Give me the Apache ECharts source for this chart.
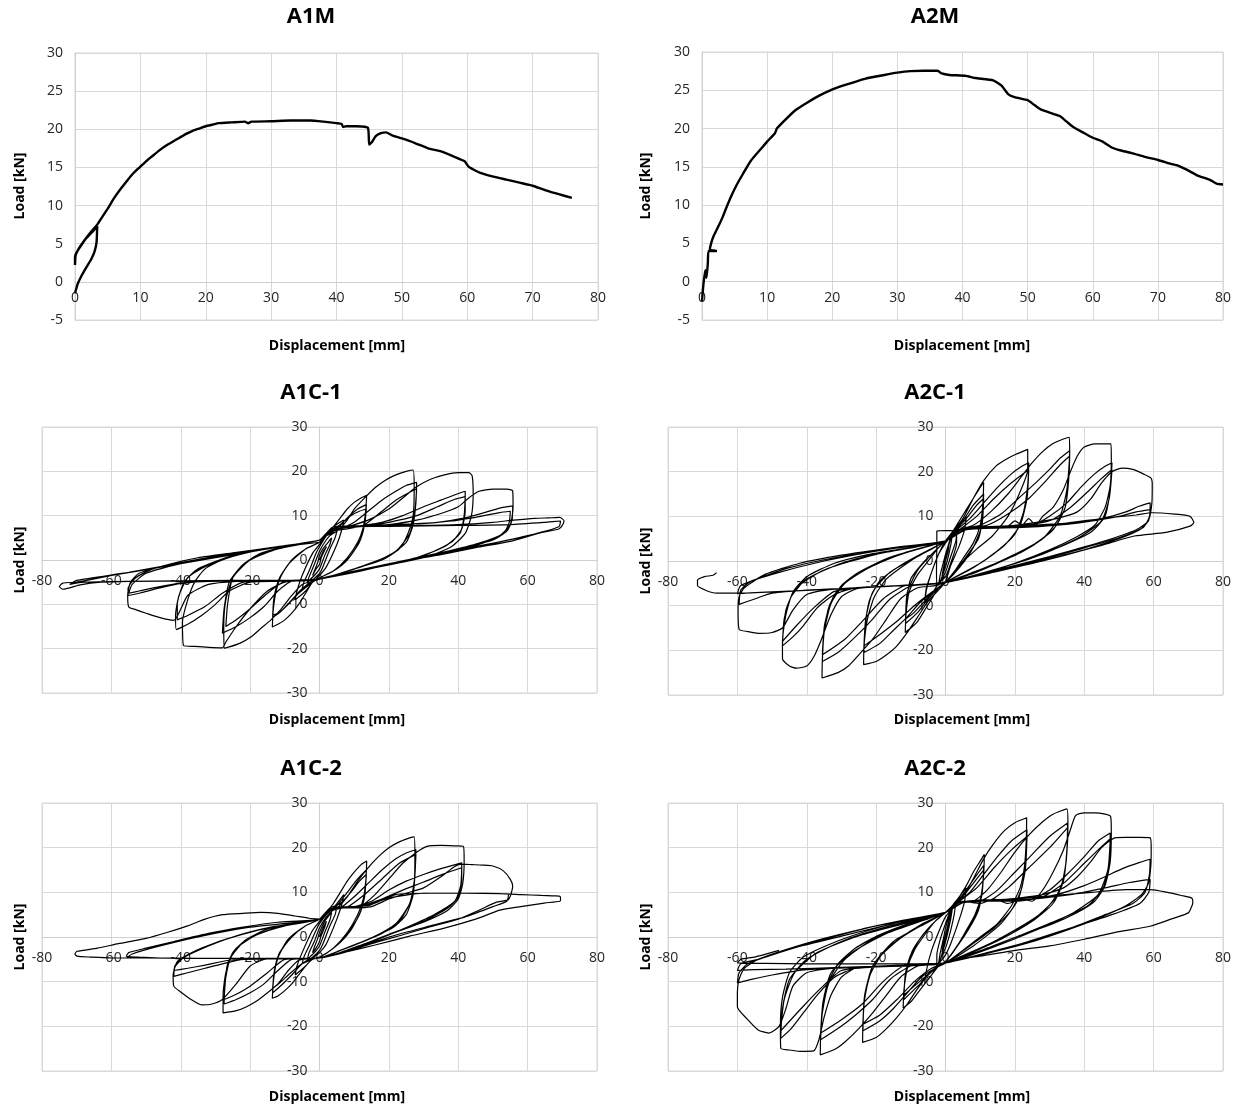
<!DOCTYPE html>
<html><head><meta charset="utf-8">
<script src="https://cdn.jsdelivr.net/npm/echarts@6/dist/echarts.min.js"></script>
<style>html,body{margin:0;padding:0;background:#fff}#c{width:1242px;height:1111px}</style>
</head><body><div id="c"></div>
<script>
// ---------- texts ----------
const titles = ['A1M', 'A2M', 'A1C-1', 'A2C-1', 'A1C-2', 'A2C-2'];
const xName = 'Displacement [mm]';
const yName = 'Load [kN]';
// ---------- axis scales [xmin, xmax, xstep, ymin, ymax, ystep] ----------
const monoScale = [0, 80, 10, -5, 30, 5];
const cycScale = [-80, 80, 20, -30, 30, 10];

// ---------- data [displacement mm, load kN] ----------
const A1M = [[0,-1.5],[0.4,-0.3],[1,0.8],[1.8,2],[2.5,3],[3,4],[3.3,5.2],[3.4,7.3],[2.6,6.5],[1.6,5.6],[0.8,4.6],[0.2,3.8],[0,3.2],[0,2.2],[0.1,3.5],[0.6,4.4],[1.4,5.4],[2.4,6.5],[3.4,7.5],[4,8.3],[5,9.6],[6,11],[7,12.2],[8,13.3],[9,14.3],[10,15.1],[11,15.9],[12,16.6],[13,17.3],[14,17.9],[15,18.4],[16,18.9],[17,19.4],[18,19.8],[19,20.1],[20,20.4],[21,20.6],[22,20.8],[24,20.9],[26,21],[26.5,20.8],[27,21],[30,21.05],[33,21.15],[36,21.15],[38,21],[40,20.8],[40.8,20.7],[41,20.3],[41.5,20.4],[43,20.4],[44.8,20.2],[45,18],[45.4,18.3],[46,19.1],[46.8,19.5],[47.6,19.6],[48.5,19.2],[50,18.8],[52,18.2],[54,17.5],[56,17.1],[58,16.4],[59.6,15.8],[60.2,15.1],[61,14.7],[62,14.3],[64,13.8],[66,13.4],[68,13],[70,12.6],[72,12],[74,11.5],[76,11]];

const A2M = [[0,-2.5],[0.2,-0.5],[0.5,1.5],[0.7,0.5],[0.9,2.5],[1,4],[2.3,4],[1.2,4.2],[1.4,5],[1.8,6],[2.5,7.2],[3.2,8.5],[3.8,9.8],[4.5,11.2],[5.3,12.6],[6.3,14.1],[7.5,15.8],[9,17.3],[10,18.3],[11.2,19.4],[11.5,20],[12.5,20.9],[14.2,22.3],[16,23.3],[18,24.3],[19.7,25],[22,25.7],[25,26.5],[28,27],[30,27.3],[32,27.5],[34,27.55],[36.2,27.55],[36.8,27.2],[38,27],[40.4,26.9],[42,26.6],[44.7,26.3],[46,25.6],[47,24.5],[48,24.1],[50,23.7],[51,23.1],[52,22.5],[54,21.9],[55,21.6],[56,20.9],[57,20.2],[58.5,19.5],[60,18.8],[61.5,18.3],[63,17.5],[64.5,17.1],[66,16.8],[68,16.3],[70,15.9],[72,15.4],[73,15.2],[74.5,14.6],[76,13.9],[78,13.3],[79,12.8],[80,12.7]];

const A1C1 = [[0,0],[1,1.8],[2,3],[1.5,2.2],[0.5,0.5],[0,-1],[-1,-2],[-2,-3.5],[-1.5,-2.5],[-0.5,-0.5],[0,1],
[1,2.5],[2.5,4],[3.5,5],[3,3.5],[1.5,1],[0,-2],[-1.5,-3.5],[-3.5,-5],[-3,-3.8],[-1.5,-1],[0,2],
[1.5,4],[3,5.5],[5,6.5],[4.5,5],[3,2.5],[1,-1.5],[0,-3],[-2,-4.5],[-5,-6.5],[-4.5,-5],[-3,-2.5],[-1,1.5],[0,3],
[2,5.5],[4,7.5],[7,9],[6.5,7],[5,3.5],[2,-1.5],[0,-3.5],[-2,-5],[-4,-7],[-7,-9],[-6.5,-7],[-5,-3.5],[-2,1.5],[0,3.5],
[2,5.5],[4,7.5],[6,9.5],[8,11.5],[10,13],[12,14],[13.6,14.6],[13.3,11],[12.5,7],[11,4],[8,0.5],[4,-2.5],[0,-4],
[-2,-5],[-4,-7.5],[-6,-10],[-8,-12],[-10,-13.5],[-12,-14.5],[-13.6,-15.1],[-13.3,-11],[-12.5,-7],[-11,-3.5],[-8,0],[-4,2.5],[0,4],
[2,5.5],[5,7],[8,9.5],[11,11.5],[13.5,12.5],[13.2,9],[12,5],[9,1],[4,-2.5],[0,-4],
[-2,-5],[-5,-6.5],[-8,-9],[-11,-11.5],[-13.5,-13],[-13.2,-9],[-12,-5],[-9,-1],[-4,2.5],[0,4],
[2,5.5],[6,8],[9,10],[11.5,11],[13.5,11.5],[13,8],[11.5,4],[8,0],[4,-2.5],[0,-4],
[-2,-5],[-6,-7.5],[-9,-10],[-11.5,-11.8],[-13.5,-12.5],[-13,-8],[-11.5,-4],[-8,0],[-4,2.5],[0,4],
[2,5.5],[5,6.5],[8,9],[10,11.5],[13,14],[16,16.3],[19,18],[22,19.2],[25,20],[27,20.3],[27.3,16],[27,10],[25.5,6],[23,2.5],[18,0],[12,-1.5],[6,-3],[0,-4.3],
[-2,-4.8],[-5,-5.5],[-8,-8],[-11,-11],[-14,-13.5],[-17,-15.5],[-20,-17.5],[-23,-18.8],[-26,-19.6],[-27.5,-19.9],[-27.6,-15],[-27,-9],[-25,-4],[-22,-1],[-17,1.5],[-10,3],[-5,3.8],[0,4.5],
[2,6],[6,7],[10,8.5],[14,11],[18,13.5],[22,15.5],[25,16.8],[28,17.5],[27.8,13],[27,8],[25,4],[20,1],[12,-1.5],[5,-3.3],[0,-4.3],
[-3,-4.6],[-8,-4.8],[-12,-7],[-16,-10.5],[-20,-13],[-24,-15],[-28,-16.5],[-27.5,-11],[-26,-5],[-22,-1],[-15,2],[-7,3.5],[0,4.5],
[3,6.5],[8,7],[13,8],[18,11],[22,13.5],[26,15.3],[28,16],[27.5,11],[26,6],[22,2],[14,-1],[6,-3],[0,-4.3],
[-4,-4.6],[-10,-4.8],[-15,-7.5],[-20,-11],[-24,-13.5],[-27,-15],[-26.5,-10],[-25,-4],[-20,0],[-12,2.5],[0,4.5],
[3,6.5],[8,7.5],[14,9],[20,11.5],[24,14],[28,16.5],[32,18.2],[36,19.2],[40,19.7],[43,19.7],[44,19],[44.3,15],[43.8,10],[42,6],[38,3],[32,1],[24,-0.5],[14,-2],[6,-3.3],[0,-4.3],
[-4,-4.6],[-10,-5],[-15,-7],[-20,-11],[-24,-15],[-27,-18.5],[-28,-19.8],[-32,-19.7],[-36,-19.5],[-39.2,-19.3],[-39.5,-14],[-38,-9],[-36,-5],[-33,-2],[-28,0],[-20,1.8],[-10,3.2],[0,4.5],
[3,6.5],[10,7.5],[18,8.5],[24,10],[30,12],[35,13.5],[40,15],[42,15.5],[42,11],[41,7],[38,4],[30,1],[20,-1],[10,-2.8],[0,-4.3],
[-5,-4.6],[-12,-4.8],[-20,-5],[-26,-7],[-30,-10],[-34,-12.5],[-38,-14.5],[-41.3,-15.7],[-41.5,-12.5],[-40.5,-8],[-38,-4],[-33,-1.5],[-25,0.8],[-15,2.6],[0,4.5],
[4,7],[12,7.5],[20,8.5],[28,10],[34,12],[39,13.7],[42,14.3],[41.7,10],[40.5,6],[36,3],[26,0],[14,-2],[0,-4.3],
[-6,-4.6],[-14,-4.7],[-22,-5],[-28,-7.5],[-33,-10.5],[-38,-12.5],[-41,-13.5],[-41,-10],[-39,-5],[-35,-2],[-25,1],[-12,3],[0,4.5],
[4,7],[12,7.5],[20,8],[28,9],[35,10.5],[40,12],[43,14],[46,15.5],[50,16],[54,16],[55.7,15.6],[55.8,12],[55,8],[52,5.5],[46,3.5],[38,2],[28,0.3],[18,-1.3],[8,-3],[0,-4.3],
[-6,-4.6],[-14,-4.7],[-24,-4.8],[-32,-5.5],[-38,-8],[-42,-13.6],[-46,-13],[-50,-12],[-53,-11.2],[-55,-10.6],[-55.3,-8],[-54.5,-5],[-52,-3],[-45,-1.3],[-35,0.5],[-25,1.6],[-12,3],[0,4.5],
[4,7.5],[14,7.7],[24,8],[34,8.5],[42,9.5],[48,10.8],[52,11.7],[55.7,12.2],[55.5,9],[54,6.5],[50,4.5],[40,2.5],[28,0.5],[15,-1.8],[0,-4.3],
[-8,-4.6],[-20,-4.7],[-32,-4.8],[-40,-5.3],[-46,-6.3],[-51,-7.3],[-55,-8],[-55.2,-6.5],[-53,-4],[-48,-2],[-38,-0.3],[-25,1.5],[-12,3],[0,4.5],
[4,7.5],[15,7.8],[28,8.2],[38,8.8],[46,9.8],[52,10.7],[55,11],[54.7,8.5],[53,6],[46,3.8],[36,1.8],[22,-0.6],[8,-3],[0,-4.3],
[-10,-4.6],[-25,-4.7],[-38,-5],[-46,-6],[-52,-7],[-55,-7.5],[-54,-5.5],[-50,-3],[-40,-0.8],[-25,1.5],[0,4.5],
[4,7.5],[15,7.7],[28,7.8],[40,8],[50,8.5],[56,9],[62,9.4],[66,9.5],[69.3,9.6],[70.5,8.8],[70,7.8],[69,7],[63,6],[55,4.2],[45,2.8],[35,1.2],[24,-0.3],[12,-2.3],[0,-4.3],
[-10,-4.6],[-25,-4.6],[-40,-4.7],[-55,-4.8],[-63,-5],[-69,-5.6],[-72,-6.3],[-74,-6.6],[-75,-6],[-74,-5.2],[-70,-5],[-60,-3.5],[-45,-1.5],[-30,0.5],[-15,2.5],[0,4.5],
[5,7.5],[20,7.6],[40,7.8],[55,8],[65,8.5],[69.5,8.8],[69,7.5],[60,5.5],[45,3],[25,0],[10,-2.5],[0,-4.3],
[-15,-4.6],[-35,-4.7],[-55,-4.8],[-68,-5],[-72,-5.5],[-70,-4.6],[-55,-2.8],[-35,0],[-15,2.5],[0,4]];

const A2C1 = [[0,0],[0.5,2],[1,3.5],[0.7,2],[0,0],[-0.5,-2],[-1,-3.5],[-0.7,-2],[0,0.5],
[0.8,3],[1.5,5],[2,6],[1.5,3.5],[0.5,0],[-0.5,-2.5],[-1.5,-4.5],[-2,-5.5],[-1.5,-3],[-0.5,0],[0,1.5],
[1,4],[2,6.3],[3.2,6.8],[3,4.5],[1.5,1],[0,-2.5],[-1.5,-4.5],[-2.5,-5.2],[-2.6,-2],[-2.5,3],[-2.5,6.7],[0,6.8],[3.2,6.8],[3.2,4],[1.5,-0.5],[0,-3.5],[-2,-5],[-4,-7.5],[-6,-9],[-5.5,-6],[-4,-2.5],[-2,1.5],[0,4],
[1.5,5.5],[3,7],[6,10],[5.5,7],[4,3.5],[1.5,-1],[0,-4.5],[-2,-6],[-4,-7.5],[-6,-9.5],[-5.5,-6.5],[-4,-2.5],[-2,1.5],[0,4.5],
[2,6.5],[4,9],[6,11.5],[8,14],[10,16.5],[11,17.6],[10.8,13],[10,8],[8,4],[5,0.5],[2,-3],[0,-4.8],
[-2,-6],[-4,-8.5],[-6,-11],[-8,-13.5],[-10,-15],[-11.6,-16],[-11.4,-12],[-10.5,-7],[-8,-3],[-5,0],[-2,3],[0,4.5],
[2,6.5],[5,9],[8,12.5],[11,15],[10.7,10],[9.5,5],[6,1],[2,-3],[0,-4.8],
[-2,-6],[-5,-8.5],[-8,-11.5],[-11.5,-14],[-11.2,-9],[-10,-4],[-6,0],[-2,3],[0,4.5],
[3,7],[6,9.5],[9,12.5],[11,14],[10.5,8],[8,3],[4,-1.5],[0,-4.8],
[-3,-6.5],[-6,-9],[-9,-11.5],[-11.5,-13],[-11,-7],[-8,-2],[-4,1.5],[0,4.5],
[2,6.5],[5,9.5],[8,14],[11,18],[14.6,21.3],[17.5,22.8],[20.3,23.9],[23.7,25],[23.7,20.5],[21.4,15.3],[18,10],[13.5,5.6],[8.9,2.6],[4,-1],[0,-4.8],
[-2,-6.5],[-5,-9],[-8,-12.5],[-11,-16],[-14,-19],[-17,-21],[-20,-22.5],[-23.6,-23.2],[-23.5,-19],[-22.5,-13],[-20.5,-8],[-17,-4],[-12,-1],[-7,1.5],[0,4.5],
[3,6.8],[7,9.5],[11,13],[15,16.5],[19,19.5],[22,21.2],[24,22],[23.7,17],[22.5,11],[20,6],[15,2.3],[8,-1.5],[0,-4.8],
[-3,-6.7],[-7,-9],[-11,-12.5],[-15,-15.5],[-19,-18.5],[-23.5,-20.5],[-23.2,-15],[-22,-9],[-19,-4.5],[-13,-1],[-6,2],[0,4.5],
[4,7],[9,10],[14,14],[19,17.5],[24,20.5],[23.5,14],[21.5,8],[17,3.5],[10,-0.5],[0,-4.8],
[-4,-7],[-9,-10],[-14,-13.5],[-19,-16.5],[-23.5,-19],[-23,-13],[-21,-7],[-16,-2.5],[-8,1],[0,4.5],
[3,6.8],[8,8],[13,11],[18,15],[22,19],[25,22],[28,24.5],[31,26.3],[34,27.3],[35.7,27.7],[35.8,24],[35.5,18],[34.5,12],[32,8],[28,5],[22,2],[15,-0.5],[8,-2.8],[0,-4.8],
[-3,-5.5],[-8,-6],[-13,-8.5],[-17,-13],[-21,-17.5],[-25,-21],[-28,-23.5],[-31,-25],[-35.6,-26.2],[-35.5,-22],[-35,-16],[-33.5,-10],[-30,-5.5],[-25,-2.5],[-18,0],[-10,2.2],[0,4.5],
[4,7],[10,8],[16,10.5],[21,14],[26,17.5],[30,20.5],[33,23],[35.8,24.7],[35.5,19],[34.5,12],[31,7],[25,3.5],[16,0],[8,-2.5],[0,-4.8],
[-4,-5.2],[-10,-5.6],[-16,-8.5],[-21,-13],[-26,-17],[-31,-20.5],[-35.5,-22.5],[-35,-16],[-33,-9.5],[-29,-5],[-22,-1.5],[-12,1.8],[0,4.5],
[5,7.2],[12,8],[18,10.5],[24,14],[29,18],[33,21.5],[35.8,23.5],[35,16],[33,10],[28,5],[20,1.5],[10,-2],[0,-4.8],
[-5,-5.2],[-12,-5.6],[-18,-8.5],[-24,-13.5],[-29,-17.5],[-35.5,-21],[-34.8,-14],[-32,-7.5],[-26,-3],[-16,0.8],[0,4.5],
[5,7.2],[12,7.5],[18,7.8],[20,9],[22,8],[24,9.5],[26,8],[28,10],[31,12],[34,16],[36,20],[38,23.5],[40,25.5],[43,26.2],[47.7,26.2],[47.8,23],[47.5,17],[46,12],[43,8],[38,5.5],[30,2.5],[20,-0.5],[10,-2.8],[0,-4.8],
[-5,-5.2],[-12,-5.5],[-20,-5.8],[-26,-6.3],[-30,-8],[-33,-12],[-36,-18],[-38,-21.5],[-40,-23.5],[-43,-24],[-45,-23.5],[-47,-21.9],[-47,-18],[-46,-12],[-44,-7],[-40,-3.5],[-32,-0.5],[-22,1.5],[-10,3],[0,4.5],
[5,7.2],[15,7.5],[25,8],[30,10],[35,13],[39,16.5],[43,19.5],[46,21.2],[48,22],[47.5,16],[46,10],[42,6.5],[34,3.5],[24,0.5],[12,-2.5],[0,-4.8],
[-6,-5.2],[-16,-5.6],[-26,-6],[-32,-7.5],[-37,-10.5],[-41,-14.5],[-44,-17],[-47,-19],[-46.5,-13],[-44.5,-8],[-40,-4],[-30,-0.5],[-18,2],[0,4.5],
[5,7.2],[20,7.8],[30,9],[36,12],[41,15.5],[45,18.5],[48,20.5],[47.2,14],[45,9],[39,5.5],[28,1.5],[14,-2],[0,-4.8],
[-8,-5.3],[-22,-5.8],[-32,-6.8],[-38,-10.5],[-43,-14.5],[-47,-18],[-46,-11],[-43,-6],[-35,-2],[-20,1.5],[0,4.5],
[5,7.2],[20,8],[32,9.5],[38,11],[42,14],[45,17.5],[48,20],[51,20.8],[54,20.5],[57,19.5],[59.3,18.5],[59.6,17],[59.5,13],[58.5,9],[56,7],[50,5],[40,2.5],[28,0],[14,-2.5],[0,-4.8],
[-8,-5.3],[-20,-5.8],[-32,-6.3],[-40,-7.5],[-44,-11],[-47,-15],[-50,-16],[-54,-16.2],[-57,-15.8],[-59.5,-15.3],[-59.8,-11],[-59.5,-8],[-58,-6],[-52,-3],[-42,-0.5],[-30,1.3],[-15,3],[0,4.5],
[6,7.2],[20,7.8],[35,8.5],[45,9.5],[52,11],[56,12.3],[59,13],[58.8,10],[57,7.5],[50,5.2],[38,2.5],[24,-0.5],[10,-3],[0,-4.8],
[-8,-5.3],[-25,-6],[-40,-6.5],[-50,-7.2],[-55,-8.5],[-59.5,-9.7],[-59,-6.5],[-56,-4.5],[-45,-1.5],[-30,1],[-15,2.8],[0,4.5],
[6,7],[22,7.5],[38,8.5],[50,10],[55,11],[59,11.5],[58.5,9],[55,7],[45,4.3],[30,1],[15,-2],[0,-4.8],
[-10,-5.4],[-30,-6.2],[-50,-6.9],[-60,-7.3],[-59,-5.5],[-50,-3],[-35,0],[-18,2.5],[0,4.5],
[6,7],[20,7.5],[35,8.5],[45,9.5],[55,10.3],[59.6,10.8],[66,10.5],[70.5,10],[71.6,8.6],[70.5,7.8],[63.6,6.4],[54.5,5.6],[45,3.5],[35,1.5],[25,-0.5],[12,-2.8],[0,-4.8],
[-10,-5.4],[-30,-6.2],[-50,-6.9],[-60,-7.2],[-66,-7.2],[-69,-6.6],[-71.5,-5.5],[-71.5,-4.3],[-69.5,-3.5],[-67,-3.2],[-66,-2.6]];

const A1C2 = [[0,0],[1,2],[2,3.5],[1.5,2.2],[0.5,0.3],[0,-1],[-1,-2.5],[-2,-3.5],[-1.5,-2.3],[-0.5,-0.3],[0,1],
[1.5,3.5],[3.5,5.5],[3,3.8],[1.5,1],[0,-2],[-1.5,-3.5],[-3.5,-5],[-3,-3.5],[-1.5,-1],[0,2],
[2,4.5],[5,6.8],[4.5,5],[3,2.5],[1,-1.5],[0,-3],[-2,-4.5],[-5,-6],[-4.5,-4.5],[-3,-2],[-1,1.5],[0,3],
[2,5],[4,6.5],[7,9.5],[6.5,7.5],[5,4],[2,-1.5],[0,-3.5],[-2,-4.8],[-4,-6.5],[-7,-8.5],[-6.5,-6.5],[-5,-3.5],[-2,1.5],[0,3.5],
[2,5.5],[4,7.5],[6,10],[8,12.5],[10,14.5],[12,16.2],[13.6,17],[13.4,13],[12.6,8.5],[11,5],[8,1],[4,-2.5],[0,-4.5],
[-2,-5],[-4,-6.5],[-6,-8.5],[-8,-10.5],[-10,-12],[-12,-13.2],[-13.6,-13.7],[-13.3,-10],[-12.5,-6],[-11,-3],[-8,0],[-4,2.5],[0,4],
[2,5.5],[5,7],[8,10],[11,13],[13.5,15],[13.2,10.5],[12,6],[9,1.5],[4,-2.5],[0,-4.5],
[-2,-5],[-5,-6],[-8,-8.5],[-11,-10.8],[-13.5,-12.5],[-13.2,-8.5],[-12,-4.5],[-9,-0.5],[-4,2.5],[0,4],
[3,6.5],[6,7.5],[9,10],[11.5,12.5],[13.5,14],[13,9],[11.5,5],[8,0.5],[4,-2.5],[0,-4.5],
[-3,-5],[-6,-6.5],[-9,-8.5],[-11.5,-10.3],[-13.5,-11.5],[-13,-7.5],[-11.5,-3.5],[-8,0],[-4,2.5],[0,4],
[2,5.5],[5,6.5],[8,9],[11,12.5],[14,15.5],[17,18],[20,20],[23,21.3],[26,22.2],[27.3,22.4],[27.5,18],[27.3,12],[26,7.5],[23,3.5],[18,0.8],[12,-1.2],[6,-3],[0,-4.7],
[-3,-4.8],[-6,-5.2],[-9,-7.5],[-12,-10.5],[-15,-12.5],[-18,-14.3],[-21,-15.6],[-24,-16.5],[-27.8,-17],[-27.8,-13],[-27,-8],[-25,-3.5],[-21,-0.5],[-15,1.8],[-8,3],[0,4],
[2,5.5],[6,6.5],[10,9],[14,12],[18,15],[22,17.5],[25,18.8],[27.8,19.6],[27.6,15],[27,9.5],[25,5],[21,2],[14,-0.5],[7,-2.7],[0,-4.7],
[-3,-4.8],[-8,-5],[-12,-7.5],[-16,-10.5],[-20,-12.5],[-24,-14],[-27.5,-15],[-27.3,-11],[-26.5,-6],[-24,-2.5],[-18,0.5],[-10,2.5],[0,4],
[3,6],[8,6.7],[13,9.5],[18,13],[23,16.5],[27.8,18.5],[27.4,13],[26,7.5],[22,3],[15,-0.2],[7,-2.7],[0,-4.7],
[-4,-4.8],[-10,-5],[-15,-8],[-20,-11],[-24,-12.8],[-27.5,-14],[-27,-9],[-25.5,-4.5],[-21,-0.5],[-12,2.2],[0,4],
[3,6.3],[8,6.7],[12,7],[16,9.5],[20,13],[24,16.5],[28,19],[31,20.3],[35,20.5],[39,20.4],[41.5,20.3],[41.7,17],[41.3,12],[40,8.5],[37,6],[32,4],[26,2.2],[20,0.5],[13,-1.5],[6,-3.5],[0,-4.7],
[-4,-4.8],[-10,-4.8],[-16,-5],[-20,-6.5],[-24,-10.5],[-28,-14],[-31,-15],[-34,-15.2],[-37,-14],[-40,-12.3],[-42,-11],[-42.2,-8.5],[-41.5,-6.5],[-39,-4.5],[-34,-2.5],[-27,-0.5],[-18,1.5],[-10,2.7],[0,4],
[3,6.3],[10,6.8],[15,8],[20,10.5],[25,12.5],[30,14],[35,15.3],[41,16.6],[41,13],[40,9],[37,6.5],[30,3.5],[20,0.6],[10,-2.5],[0,-4.7],
[-5,-4.8],[-14,-4.9],[-22,-5],[-28,-6],[-33,-7],[-38,-8],[-42,-8.8],[-41.7,-6.5],[-40,-5],[-35,-3],[-25,0],[-14,2.2],[0,4],
[4,6.5],[12,7],[18,8.5],[24,10.5],[30,12.3],[36,14.2],[41,15.5],[40.7,11.5],[39,8],[33,5],[24,1.8],[12,-2],[0,-4.7],
[-6,-4.8],[-16,-4.9],[-26,-5.2],[-33,-6.3],[-38,-7],[-42,-7.5],[-41,-5.5],[-38,-4],[-30,-1.3],[-18,1.5],[0,4],
[4,6.5],[10,6.5],[15,6.8],[20,8.5],[25,9.8],[30,11],[35,13.5],[39,15.8],[41,16.3],[44,16.2],[47,16.1],[50,15.9],[53,14.8],[55,12.9],[55.7,11.4],[54.5,8.4],[51,7.8],[46,6],[40,4],[32,2.3],[24,0.5],[15,-1.5],[7,-3.5],[0,-4.7],
[-6,-4.8],[-16,-4.8],[-28,-4.8],[-38,-4.8],[-46,-4.7],[-52,-4.5],[-55.7,-4.3],[-55,-3.5],[-50,-2.5],[-42,-1],[-32,0.8],[-22,2.2],[-12,3.3],[0,4],
[4,6.5],[12,6.8],[20,8.7],[30,9.8],[40,9.8],[48,9.8],[52,9.7],[54.5,9.5],[54,8],[50,6.8],[42,4.5],[32,2.5],[20,0],[8,-3.2],[0,-4.7],
[-8,-4.8],[-20,-4.8],[-34,-4.8],[-46,-4.7],[-55.5,-4.6],[-54,-3.8],[-46,-2],[-34,0.2],[-20,2.2],[0,4],
[4,6.5],[14,7],[22,9.5],[32,9.8],[42,9.8],[52,9.7],[58,9.5],[64,9.3],[68,9.2],[69.3,9.1],[69.5,8.5],[69.3,8],[64.8,7.6],[58,6.8],[52,6],[45,4],[36,2],[26,0.2],[16,-1.8],[8,-3.3],[0,-4.7],
[-8,-4.8],[-20,-4.8],[-35,-4.8],[-50,-4.7],[-60,-4.7],[-66,-4.5],[-69.9,-4.3],[-70.5,-3.8],[-69.9,-3.2],[-64,-2.5],[-58,-1.5],[-50,-0.3],[-44,1],[-38,2.5],[-33,4],[-28,5],[-22,5.3],[-17,5.5],[-12,5.3],[-7,4.7],[-3,4.2],[0,4]];

const A2C2 = [[0,0],[0.5,2],[1,3.5],[0.7,2],[0,0],[-0.5,-2],[-1,-3.5],[-0.7,-2],[0,0.5],
[0.8,3],[1.5,5],[2,6.5],[1.5,4],[0.5,0.5],[-0.5,-2.5],[-1.5,-5],[-2,-6],[-1.5,-3.5],[-0.5,0],[0,2],
[1,4.5],[2,7],[3,8],[2.5,5],[1.5,1.5],[0,-2.5],[-1.5,-5],[-2.5,-6.5],[-2.5,-4],[-1.5,-0.5],[0,3],
[1.5,6],[3,8],[6,11],[5.5,8],[4,4],[1.5,-1.5],[0,-4],[-2,-6],[-4,-8.5],[-6,-10.5],[-5.5,-7.5],[-4,-3],[-1.5,2],[0,4.5],
[2,6.5],[4,9],[6,11.5],[8,14.5],[10,17],[11.2,18.5],[11,14],[10.2,9],[8.5,5],[6,1.5],[3,-2.5],[0,-5.5],
[-2,-6.5],[-4,-8.5],[-6,-10.5],[-8,-12.5],[-10,-14.5],[-12.2,-15.9],[-12,-12],[-11,-7],[-9,-3],[-6,0.5],[-3,3.5],[0,5.5],
[2,7],[5,9.5],[8,12.8],[11,16],[10.7,11],[9.5,6],[6.5,1.5],[3,-2.5],[0,-5.5],
[-2,-6.5],[-5,-8.5],[-8,-11],[-12,-14],[-11.7,-9.5],[-10.3,-4.5],[-7,0],[-3,3.5],[0,5.5],
[3,7.5],[6,10],[9,13],[11,15],[10.5,9.5],[8.5,4.5],[5,0],[2,-3.5],[0,-5.5],
[-3,-7],[-6,-9],[-9,-11],[-12,-13],[-11.5,-8],[-9.5,-3],[-6,1],[-3,3.5],[0,5.5],
[2,7],[5,9],[8,13],[11,17.5],[14,21],[17,23.8],[20,25.6],[23.4,26.7],[23.3,22],[22.8,16],[21.5,11],[19,7],[15,3],[10,0],[5,-3],[0,-5.8],
[-2,-6.5],[-5,-8.5],[-8,-11.5],[-11,-15],[-14,-18],[-17,-20.5],[-20,-22.5],[-23.9,-23.6],[-23.8,-19],[-23.2,-13],[-21.5,-8],[-18,-3.5],[-13,-0.2],[-7,2.8],[0,5.5],
[3,7.5],[7,10],[11,14],[15,18],[19,21.5],[23.5,24],[23.2,18],[22,11],[19,6],[14,2],[7,-2],[0,-5.8],
[-3,-7],[-7,-9],[-11,-12.5],[-15,-16],[-19,-18.8],[-23.8,-21],[-23.5,-15],[-22,-9],[-19,-4.5],[-13,-0.3],[-6,3],[0,5.5],
[4,8],[9,11],[14,15.5],[19,19.5],[23.5,22.5],[23,15],[21,8.5],[16,3],[8,-2],[0,-5.8],
[-4,-7],[-9,-10],[-14,-14],[-19,-17.5],[-23.8,-19.5],[-23.3,-13],[-21,-6.5],[-15,-1],[-7,2.5],[0,5.5],
[3,7.5],[8,8],[12,10.5],[16,14.5],[20,19],[24,22.8],[28,25.8],[31,27.5],[35,28.7],[35.3,25],[35,19],[34,13],[31.5,8.5],[27,5],[21,2],[14,-1],[7,-3.5],[0,-5.8],
[-3,-6.2],[-8,-6.5],[-13,-9],[-17,-13],[-21,-17],[-25,-20.5],[-29,-23.5],[-32,-25.2],[-36.1,-26.4],[-36,-22],[-35.5,-16],[-34,-10.5],[-31,-6],[-26,-2.5],[-19,0.5],[-10,3.2],[0,5.5],
[4,7.8],[10,8],[15,10.5],[20,14.5],[25,18.5],[30,22.5],[35.2,25.5],[35,19.5],[34,12.5],[31,7.5],[25,3.5],[16,-0.5],[8,-3.3],[0,-5.8],
[-4,-6.2],[-10,-6.5],[-16,-9.5],[-21,-14],[-26,-17.5],[-31,-20.5],[-36,-23],[-35.5,-17],[-33.5,-10],[-29,-5],[-21,-0.5],[-11,2.8],[0,5.5],
[5,8],[12,8],[18,11],[24,15.5],[30,20],[35.2,24.5],[34.8,17],[33,10.5],[28,5.5],[19,0.8],[9,-3],[0,-5.8],
[-5,-6.2],[-12,-6.5],[-18,-10],[-24,-15],[-30,-18.5],[-36,-21.5],[-35.3,-14.5],[-33,-8],[-27,-3.5],[-17,0.8],[0,5.5],
[5,8],[10,7.5],[14,8.5],[18,7.5],[22,8.5],[25,8],[28,10.5],[31,14.5],[34,19.5],[36,24],[37.5,27.2],[40,27.8],[43,27.8],[46,27.5],[47.6,27],[47.8,23.5],[47.5,17],[46,11.5],[43,8],[38,5.5],[31,3],[22,0.5],[12,-2.5],[0,-5.8],
[-5,-6.2],[-12,-6.5],[-20,-6.7],[-26,-7],[-30,-9],[-33,-13],[-35,-18],[-36.5,-23],[-38,-25.5],[-42,-25.6],[-45,-25.3],[-47.5,-24.9],[-47.6,-20],[-47,-13.5],[-45,-8],[-41,-4.5],[-33,-1.5],[-22,1.5],[-11,3.8],[0,5.5],
[5,8],[15,8],[25,8.5],[30,10.5],[35,14],[40,18],[44,21.5],[47.5,23.3],[47.2,17],[45.5,11],[41,7],[33,4],[22,0.5],[11,-2.8],[0,-5.8],
[-6,-6.2],[-16,-6.6],[-26,-7],[-32,-9],[-37,-13],[-41,-17],[-44.5,-20.5],[-47.5,-22.7],[-47,-16],[-45,-9.5],[-40,-5],[-30,-1],[-16,2.5],[0,5.5],
[6,8],[18,8],[28,9],[34,12],[40,16.5],[44,19.5],[47.5,22],[46.8,15],[44,9.5],[37,5.5],[26,1.5],[13,-2.5],[0,-5.8],
[-8,-6.2],[-20,-6.7],[-30,-7.5],[-36,-11.5],[-41,-15.5],[-47.5,-21],[-46.5,-14],[-43.5,-8],[-37,-3.5],[-24,0.5],[0,5.5],
[6,8],[18,8.5],[28,9.5],[34,11],[38,13.5],[42,17],[45,20],[48.8,22.2],[52,22.3],[56,22.3],[59,22.2],[59.3,20],[59.2,16],[58.5,12],[56.5,9.5],[52,7],[45,4.5],[36,1.8],[26,-0.8],[14,-3.3],[0,-5.8],
[-8,-6.2],[-20,-6.6],[-32,-7],[-40,-8],[-44,-11],[-46,-16],[-48,-20],[-51,-21.5],[-54,-20.8],[-57,-18.5],[-60,-15.6],[-60,-12.5],[-59.5,-9.5],[-58,-7],[-54,-5],[-46,-2.8],[-36,-0.5],[-24,1.8],[-12,3.8],[0,5.5],
[6,8],[20,8],[32,9.5],[40,11.5],[46,13.5],[51,15.3],[56,16.7],[59,17.4],[58.8,14],[57.5,10],[54,7.5],[46,5],[36,2],[24,-1],[12,-3.5],[0,-5.8],
[-10,-6.3],[-25,-6.8],[-40,-7.3],[-50,-8.5],[-56,-9.5],[-60,-10.3],[-59.5,-8],[-57,-6],[-48,-3.5],[-35,-0.5],[-20,2.5],[0,5.5],
[6,8],[22,8.3],[36,9.5],[46,11],[53,12.2],[59,12.9],[58.6,10],[56,7.5],[48,5],[36,2],[22,-1.5],[10,-4],[0,-5.8],
[-12,-6.3],[-30,-6.8],[-46,-7.2],[-55,-7.3],[-60,-7.5],[-59,-6],[-54,-5],[-44,-2.5],[-30,0.2],[-15,3],[0,5.5],
[6,8],[20,8.5],[32,9.3],[42,10],[52,10.6],[59,10.6],[64,10],[68,9.3],[71,8.7],[71.3,7.8],[71,6.9],[70,5.4],[65,4],[59,2.4],[50,1.2],[40,-0.5],[30,-2],[20,-3],[10,-4.3],[3,-5],[0,-5.8],
[-10,-6],[-25,-6],[-40,-6],[-52,-5.9],[-60,-5.8],[-59,-5],[-55,-4.5],[-48,-3]];

const seriesData = [A1M, A2M, A1C1, A2C1, A1C2, A2C2];

// ---------- layout ----------
const grids = [
  {left: 75, top: 53, width: 523, height: 267},
  {left: 702, top: 52, width: 521, height: 268},
  {left: 42, top: 427, width: 555, height: 266},
  {left: 668, top: 427, width: 555, height: 268},
  {left: 42, top: 803, width: 555, height: 268},
  {left: 668, top: 803, width: 555, height: 268}
];
const titlePos = [[311,17],[935,17],[311,393],[935,393],[311,769],[935,769]];
const xNamePos = [[337,346],[962,346],[337,720],[962,720],[337,1097],[962,1097]];
const yNamePos = [[20,186],[646,186],[20,560],[646,561],[20,937],[646,937]];

const FONT = '"Open Sans", "Liberation Sans", sans-serif';
const gridColor = '#d9d9d9';

// axes cross at the origin (Excel style): shift axis lines to the zero of the other axis
function zeroShift(len, min, max) { return -len * (0 - min) / (max - min); }

const option = {
  animation: false,
  backgroundColor: '#ffffff',
  grid: grids.map(g => Object.assign({show: true, borderColor: gridColor, borderWidth: 1, containLabel: false}, g)),
  xAxis: grids.map((g, i) => {
    const s = i < 2 ? monoScale : cycScale;
    return {
      gridIndex: i, type: 'value', min: s[0], max: s[1], interval: s[2],
      position: 'bottom', offset: zeroShift(g.height, s[3], s[4]),
      axisLine: {show: true, onZero: false, lineStyle: {color: '#cfcfcf', width: 1}},
      axisTick: {show: false},
      splitLine: {show: true, lineStyle: {color: gridColor, width: 1}},
      axisLabel: {color: '#262626', fontSize: 14, fontFamily: FONT, margin: i < 2 ? 9 : 14}
    };
  }),
  yAxis: grids.map((g, i) => {
    const s = i < 2 ? monoScale : cycScale;
    return {
      gridIndex: i, type: 'value', min: s[3], max: s[4], interval: s[5],
      position: 'left', offset: zeroShift(g.width, s[0], s[1]),
      axisLine: {show: true, onZero: false, lineStyle: {color: '#cfcfcf', width: 1}},
      axisTick: {show: false},
      splitLine: {show: true, lineStyle: {color: gridColor, width: 1}},
      axisLabel: {color: '#262626', fontSize: 14, fontFamily: FONT, margin: 12}
    };
  }),
  series: seriesData.map((d, i) => ({
    type: 'line', xAxisIndex: i, yAxisIndex: i, data: d,
    symbol: 'none', showSymbol: false, silent: true,
    smooth: i < 2 ? 0.15 : 0.2,
    lineStyle: {color: '#000000', width: i < 2 ? 2.4 : 1.2},
    z: 5
  })),
  graphic: [].concat(
    titles.map((t, i) => ({type: 'text', x: titlePos[i][0], y: titlePos[i][1], z: 10,
      style: {text: t, font: 'bold 22px ' + FONT, fill: '#000', align: 'center', verticalAlign: 'middle', textAlign: 'center', textVerticalAlign: 'middle'}})),
    xNamePos.map(p => ({type: 'text', x: p[0], y: p[1], z: 10,
      style: {text: xName, font: 'bold 14px ' + FONT, fill: '#000', align: 'center', verticalAlign: 'middle', textAlign: 'center', textVerticalAlign: 'middle'}})),
    yNamePos.map(p => ({type: 'text', x: p[0], y: p[1], rotation: Math.PI / 2, z: 10,
      style: {text: yName, font: 'bold 14px ' + FONT, fill: '#000', align: 'center', verticalAlign: 'middle', textAlign: 'center', textVerticalAlign: 'middle'}}))
  )
};

const chart = echarts.init(document.getElementById('c'), null, {renderer: 'canvas', width: 1242, height: 1111});
chart.setOption(option);
</script>
</body></html>
